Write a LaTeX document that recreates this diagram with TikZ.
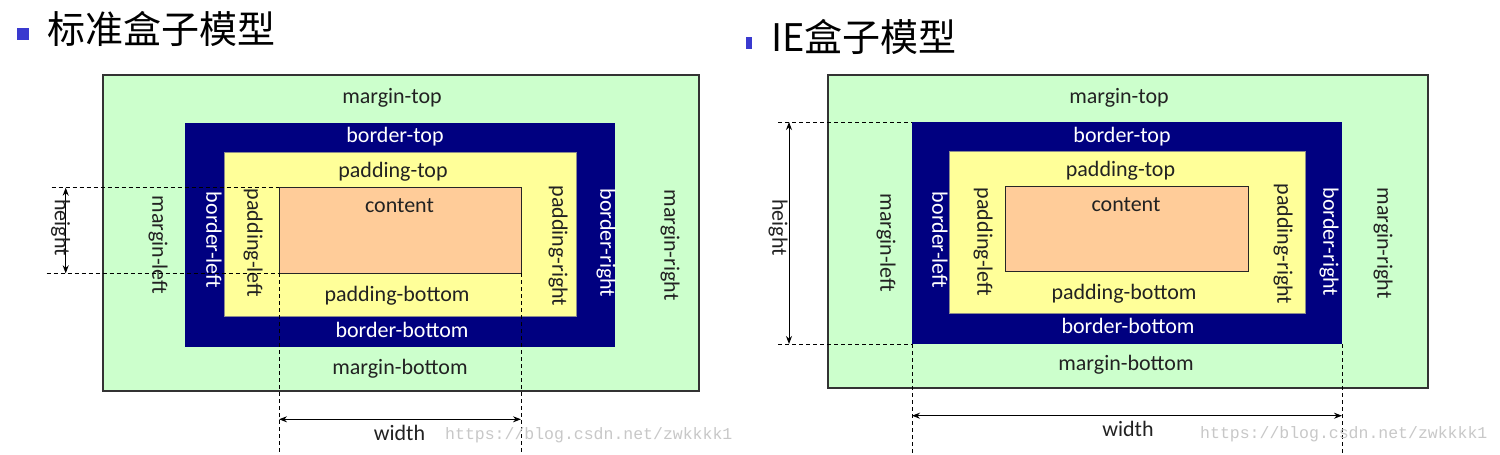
\documentclass[tikz,border=0pt]{standalone}
\usepackage{fontspec}
\setmainfont{Carlito}
\newfontfamily\cjk{Noto Sans CJK SC}
\newfontfamily\wmfont{Liberation Mono}
\usetikzlibrary{arrows.meta}
\definecolor{mgreen}{HTML}{CCFFCC}
\definecolor{bnavy}{HTML}{000080}
\definecolor{pyellow}{HTML}{FFFF99}
\definecolor{cpeach}{HTML}{FFCC99}
\definecolor{bulletc}{HTML}{3A3ACF}
\definecolor{labelc}{HTML}{222222}
\definecolor{wmgray}{HTML}{C8C8C8}
\tikzset{
  boxbase/.style={anchor=north west, inner sep=0pt, outer sep=0pt},
  mbox/.style={boxbase, fill=mgreen, draw=black!80, line width=1.3pt},
  bbox/.style={boxbase, fill=bnavy},
  pbox/.style={boxbase, fill=pyellow, draw=black!45, line width=0.6pt},
  cbox/.style={boxbase, fill=cpeach, draw=black!85, line width=1pt},
  lbl/.style={font=\fontsize{22}{22}\selectfont, text=labelc, inner sep=0pt, text height=0.72em, text depth=0.2em},
  hlbl/.style={lbl, yshift=-4pt},
  hwlbl/.style={hlbl, text=white},
  vlbl/.style={lbl, rotate=-90},
  vwlbl/.style={lbl, text=white, rotate=-90},
  ext/.style={draw=black, line width=1pt, dash pattern=on 4pt off 3pt},
  dimarrow/.style={draw=black, line width=1pt, {Stealth[length=8pt,width=6pt]}-{Stealth[length=8pt,width=6pt]}},
  title/.style={font=\cjk\fontsize{38}{38}\selectfont, text=black, inner sep=0pt, anchor=base west},
  bulletbox/.style={fill=bulletc, draw=none},
  wm/.style={font=\wmfont\fontsize{16.5}{16.5}\selectfont, text=wmgray, inner sep=0pt, anchor=west}
}
\begin{document}
\begin{tikzpicture}[x=1pt, y=-1pt]
\useasboundingbox[fill=white] (0,0) rectangle (1500,455);

% ---------- titles ----------
\fill[bulletbox] (17,28) rectangle (29,40);
\node[title] (t1) at (47,43) {标准盒子模型};
\fill[bulletbox] (746,37) rectangle (752,49);
\node[title] (t2) at (771,51) {IE盒子模型};

% ---------- left: standard box model ----------
\node[mbox, minimum width=596pt, minimum height=316pt] (mL) at (103,75) {};
\node[bbox, minimum width=430pt, minimum height=224.5pt] (bL) at (185,122.5) {};
\node[pbox, minimum width=352.5pt, minimum height=163.5pt] (pL) at (224,152.5) {};
\node[cbox, minimum width=242pt, minimum height=85.6pt] (cL) at (279,187.7) {};

\node[hlbl] (mtL) at (392,97) {margin-top};
\node[hwlbl] (btL) at (395,135.7) {border-top};
\node[hlbl] (ptL) at (393,170.7) {padding-top};
\node[hlbl] (ctL) at (399.5,206) {content};
\node[hlbl] (pbL) at (397,295) {padding-bottom};
\node[hwlbl] (bbL) at (402,331) {border-bottom};
\node[hlbl] (mbL) at (400,367.7) {margin-bottom};
\node[vlbl] (mlL) at (155,245) {margin-left};
\node[vwlbl] (blL) at (209,240) {border-left};
\node[vlbl] (plL) at (250,243) {padding-left};
\node[vlbl] (prL) at (555,246) {padding-right};
\node[vwlbl] (brL) at (603,243) {border-right};
\node[vlbl] (mrL) at (667,245) {margin-right};

% height dimension (left)
\coordinate (hLt) at (51.7,187.7);
\coordinate (hLb) at (46.7,273.3);
\coordinate (haLt) at (65.7,187.7);
\coordinate (haLb) at (65.7,273.3);
\draw[ext] (hLt) -- (cL.north west);
\draw[ext] (hLb) -- (cL.south west);
\draw[dimarrow] (haLt) -- (haLb);
\node[vlbl] (hL) at (57.5,227.5) {height};

% width dimension (left)
\coordinate (wLl) at (279,455);
\coordinate (wLr) at (521,455);
\coordinate (waLl) at (279,419.3);
\coordinate (waLr) at (521,419.3);
\draw[ext] (cL.south west) -- (wLl);
\draw[ext] (cL.south east) -- (wLr);
\draw[dimarrow] (waLl) -- (waLr);
\node[hlbl] (wL) at (399.5,434) {width};

\node[wm] (wm1) at (445,435.5) {https://blog.csdn.net/zwkkkk1};

% ---------- right: IE box model ----------
\node[mbox, minimum width=600pt, minimum height=313pt] (mR) at (828,75) {};
\node[bbox, minimum width=430pt, minimum height=222pt] (bR) at (912,122) {};
\node[pbox, minimum width=356pt, minimum height=161.6pt] (pR) at (949.5,151.7) {};
\node[cbox, minimum width=243.5pt, minimum height=84.3pt] (cR) at (1005,186.7) {};

\node[hlbl] (mtR) at (1119,97.3) {margin-top};
\node[hwlbl] (btR) at (1122,135.7) {border-top};
\node[hlbl] (ptR) at (1120.5,170) {padding-top};
\node[hlbl] (ctR) at (1126,205) {content};
\node[hlbl] (pbR) at (1124,293.3) {padding-bottom};
\node[hwlbl] (bbR) at (1128,326.7) {border-bottom};
\node[hlbl] (mbR) at (1126,364.3) {margin-bottom};
\node[vlbl] (mlR) at (883,243) {margin-left};
\node[vwlbl] (blR) at (935,240) {border-left};
\node[vlbl] (plR) at (980,242) {padding-left};
\node[vlbl] (prR) at (1280,244) {padding-right};
\node[vwlbl] (brR) at (1326,242) {border-right};
\node[vlbl] (mrR) at (1380,243) {margin-right};

% height dimension (right)
\coordinate (hRt) at (778,122);
\coordinate (hRb) at (778,344);
\coordinate (haRt) at (789,122);
\coordinate (haRb) at (789,344);
\draw[ext] (hRt) -- (bR.north west);
\draw[ext] (hRb) -- (bR.south west);
\draw[dimarrow] (haRt) -- (haRb);
\node[vlbl] (hR) at (775,227.5) {height};

% width dimension (right)
\coordinate (wRl) at (912,455);
\coordinate (wRr) at (1342,455);
\coordinate (waRl) at (912,415.7);
\coordinate (waRr) at (1342,415.7);
\draw[ext] (bR.south west) -- (wRl);
\draw[ext] (bR.south east) -- (wRr);
\draw[dimarrow] (waRl) -- (waRr);
\node[hlbl] (wR) at (1128,430) {width};

\node[wm] (wm2) at (1200,434.5) {https://blog.csdn.net/zwkkkk1};
\end{tikzpicture}
\end{document}
